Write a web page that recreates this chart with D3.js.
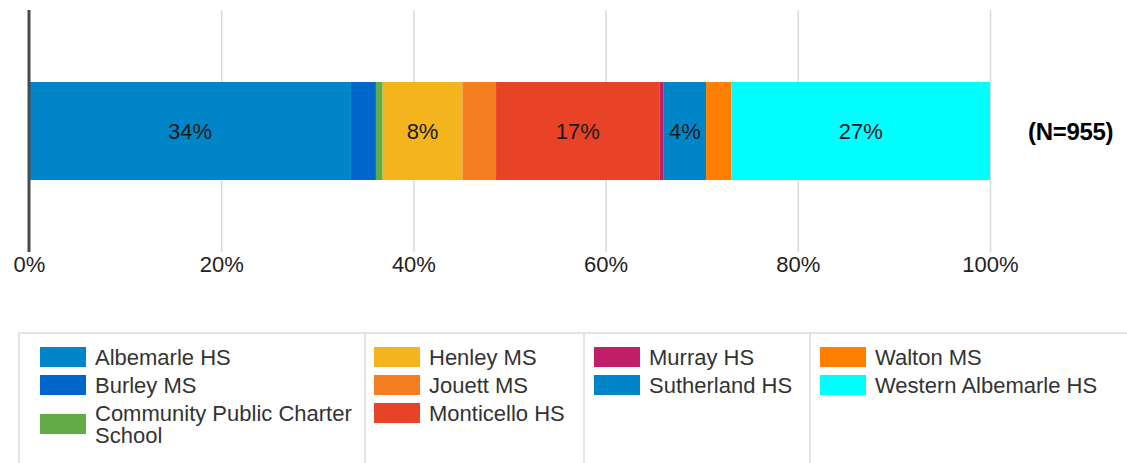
<!DOCTYPE html>
<html>
<head>
<meta charset="utf-8">
<script src="https://cdn.jsdelivr.net/npm/d3@7"></script>
<style>
  body { margin: 0; background: #fff; }
  svg { display: block; font-family: "Liberation Sans", Arial, sans-serif; }
</style>
</head>
<body>
<svg id="canvas" width="1127" height="463"></svg>
<script>
// values (percent of N)
let schools = ['Albemarle HS', 'Burley MS', 'Community Public Charter School', 'Henley MS',
  'Jouett MS', 'Monticello HS', 'Murray HS', 'Sutherland HS', 'Walton MS', 'Western Albemarle HS']
let shares = [33.5, 2.6, 0.7, 8.3, 3.5, 17.0, 0.45, 4.4, 2.65, 26.9]
let colors = ['#0086c8', '#0066cc', '#62ab45', '#f4b41e', '#f57e20', '#e84326',
  '#c01f68', '#0086c8', '#ff8000', '#00ffff']
let tickValues = [0, 20, 40, 60, 80, 100]
let totalN = 955
let legendGroups = [3, 3, 2, 2]   // items per legend column

let canvas = d3.select('#canvas')

let xScale = d3.scaleLinear()
  .domain([0, 100])
  .range([29, 990])

let yScale = d3.scaleBand()
  .domain(['all'])
  .range([10, 252])
  .paddingOuter(0.735)
  .paddingInner(0)

// gridlines
canvas.append('g')
  .attr('transform', 'translate(0, 10)')
  .call(d3.axisBottom(xScale).tickValues(tickValues.slice(1)).tickSize(242).tickFormat(''))
  .call(g => g.select('.domain').remove())
  .selectAll('line')
  .attr('stroke', '#d9d9d9')
  .attr('stroke-width', 1.5)

// stacked bar
let row = {}
schools.forEach((s, i) => { row[s] = shares[i] })
let series = d3.stack().keys(schools)([row])

let block = canvas.selectAll('g.seg')
  .data(series)
  .enter()
  .append('g')
  .attr('class', 'seg')

block.append('rect')
  .attr('x', (d) => xScale(d[0][0]))
  .attr('width', (d) => xScale(d[0][1]) - xScale(d[0][0]))
  .attr('y', yScale('all'))
  .attr('height', yScale.bandwidth())
  .attr('fill', (d) => colors[d.index])

block.filter((d) => shares[d.index] >= 4)
  .append('text')
  .text((d) => Math.round(shares[d.index]) + '%')
  .attr('x', (d) => (xScale(d[0][0]) + xScale(d[0][1])) / 2)
  .attr('y', yScale('all') + yScale.bandwidth() / 2)
  .attr('dy', '0.36em')
  .attr('text-anchor', 'middle')
  .attr('font-size', 22)
  .attr('fill', '#1a1a1a')

// axis line at 0
canvas.append('line')
  .attr('x1', xScale(0)).attr('x2', xScale(0))
  .attr('y1', 10).attr('y2', 252)
  .attr('stroke', '#4a4a4a')
  .attr('stroke-width', 3)

// tick labels
canvas.append('g')
  .attr('transform', 'translate(0, 252)')
  .call(d3.axisBottom(xScale).tickValues(tickValues).tickSize(0).tickPadding(4).tickFormat(d => d + '%'))
  .call(g => g.select('.domain').remove())
  .selectAll('text')
  .attr('font-size', 22)
  .attr('font-family', '"Liberation Sans", Arial, sans-serif')
  .attr('fill', '#222')

canvas.append('text')
  .text('(N=' + totalN + ')')
  .attr('x', 1028)
  .attr('y', yScale('all') + yScale.bandwidth() / 2)
  .attr('dy', '0.36em')
  .attr('font-size', 24)
  .attr('font-weight', 'bold')
  .attr('letter-spacing', -0.3)
  .attr('fill', '#000')

// legend
let legend = canvas.append('g')
legend.append('rect')
  .attr('x', 19).attr('y', 333)
  .attr('width', 1130).attr('height', 150)
  .attr('fill', 'none')
  .attr('stroke', '#e4e4e4')
  .attr('stroke-width', 2)

let colEdge = [19, 365, 584, 810, 1127]
let swatchX = [40, 374, 594, 820]
colEdge.slice(1, 4).forEach(x => {
  legend.append('line')
    .attr('x1', x).attr('x2', x)
    .attr('y1', 333).attr('y2', 463)
    .attr('stroke', '#e4e4e4')
    .attr('stroke-width', 2)
})

let wrap = (textSel, maxWidth, lineH) => {
  let words = textSel.text().split(' ')
  textSel.text('')
  let x = textSel.attr('x')
  let line = []
  let tspan = textSel.append('tspan').attr('x', x).attr('dy', '0.36em')
  let lines = 1
  words.forEach(w => {
    line.push(w)
    tspan.text(line.join(' '))
    if (tspan.node().getComputedTextLength() > maxWidth && line.length > 1) {
      line.pop()
      tspan.text(line.join(' '))
      line = [w]
      tspan = textSel.append('tspan').attr('x', x).attr('dy', lineH).text(w)
      lines++
    }
  })
  return lines
}

let idx = 0
legendGroups.forEach((count, c) => {
  let y = 343
  for (let k = 0; k < count; k++) {
    let i = idx++
    let tx = swatchX[c] + 55
    let label = legend.append('text')
      .text(schools[i])
      .attr('x', tx)
      .attr('y', y + 14)
      .attr('font-size', 22)
      .attr('fill', '#333')
    let lines = wrap(label, colEdge[c + 1] - tx - 6, 22)
    let h = 6 + lines * 22
    legend.append('rect')
      .attr('x', swatchX[c])
      .attr('y', y + h / 2 - 10)
      .attr('width', 46)
      .attr('height', 20)
      .attr('fill', colors[i])
    y += h
  }
})
</script>
</body>
</html>
